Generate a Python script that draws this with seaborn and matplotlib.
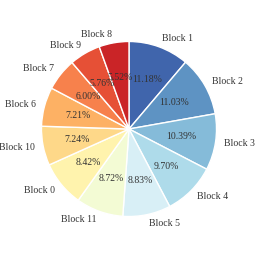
import matplotlib
matplotlib.use("Agg")
import matplotlib.pyplot as plt
import seaborn as sns

labels = ["Block 1", "Block 2", "Block 3", "Block 4", "Block 5", "Block 11",
          "Block 0", "Block 10", "Block 6", "Block 7", "Block 9", "Block 8"]
values = [11.18, 11.03, 10.39, 9.70, 8.83, 8.72, 8.42, 7.24, 7.21, 6.00, 5.76, 5.52]

sns.set_theme(style="white")
plt.rcParams['font.family'] = ['Liberation Serif', 'DejaVu Serif']

colors = sns.color_palette("RdYlBu_r", len(values))

fig = plt.figure(figsize=(2.58, 2.58), dpi=100)
ax = fig.add_axes([0.076, 0.076, 0.848, 0.848])
wedges, texts, autotexts = ax.pie(values, labels=labels, colors=colors,
                                  autopct="%.2f%%", startangle=90, counterclock=False,
                                  wedgeprops=dict(edgecolor="white", linewidth=1),
                                  textprops=dict(fontsize=7, color="#333333"))
ax.set_aspect("equal")
fig.savefig("out.png", dpi=100)
